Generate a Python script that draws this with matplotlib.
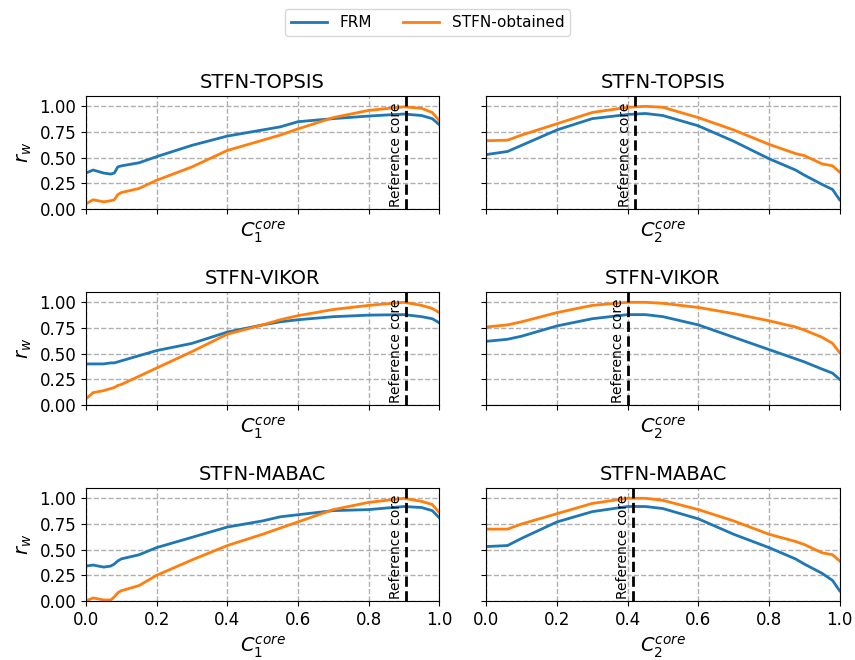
import numpy as np
import matplotlib.pyplot as plt

# C1 core sweep (left column)
x1 = [0.0, 0.02, 0.05, 0.07, 0.08, 0.09, 0.1, 0.15, 0.2, 0.3, 0.4, 0.5, 0.55, 0.6,
      0.7, 0.8, 0.9, 0.95, 0.98, 1.0]
topsis1_frm = [0.35, 0.38, 0.35, 0.34, 0.35, 0.41, 0.42, 0.45, 0.51, 0.62, 0.71, 0.77,
               0.80, 0.85, 0.88, 0.905, 0.925, 0.91, 0.88, 0.82]
topsis1_stfn = [0.05, 0.09, 0.07, 0.08, 0.09, 0.14, 0.16, 0.20, 0.28, 0.41, 0.57, 0.67,
                0.72, 0.78, 0.89, 0.96, 0.995, 0.98, 0.94, 0.86]
vikor1_frm = [0.40, 0.40, 0.40, 0.41, 0.41, 0.42, 0.43, 0.48, 0.53, 0.60, 0.71, 0.78,
              0.81, 0.83, 0.86, 0.875, 0.88, 0.86, 0.84, 0.80]
vikor1_stfn = [0.06, 0.12, 0.14, 0.16, 0.17, 0.19, 0.20, 0.28, 0.36, 0.52, 0.69, 0.78,
               0.83, 0.87, 0.93, 0.97, 1.0, 0.97, 0.94, 0.90]
mabac1_frm = [0.34, 0.35, 0.33, 0.34, 0.36, 0.39, 0.41, 0.45, 0.52, 0.62, 0.72, 0.78,
              0.82, 0.84, 0.88, 0.89, 0.92, 0.91, 0.88, 0.81]
mabac1_stfn = [0.0, 0.03, 0.01, 0.01, 0.04, 0.08, 0.10, 0.15, 0.25, 0.40, 0.54, 0.65,
               0.71, 0.77, 0.89, 0.96, 1.0, 0.97, 0.94, 0.86]

# C2 core sweep (right column)
x2 = [0.0, 0.06, 0.1, 0.2, 0.3, 0.4, 0.45, 0.5, 0.6, 0.7, 0.8, 0.875, 0.9, 0.95, 0.98, 1.0]
topsis2_frm = [0.53, 0.56, 0.62, 0.77, 0.88, 0.92, 0.93, 0.91, 0.81, 0.66, 0.49, 0.38,
               0.33, 0.24, 0.19, 0.09]
topsis2_stfn = [0.665, 0.67, 0.72, 0.83, 0.94, 0.99, 1.0, 0.99, 0.89, 0.77, 0.63, 0.54,
                0.52, 0.44, 0.42, 0.36]
vikor2_frm = [0.62, 0.64, 0.67, 0.77, 0.84, 0.88, 0.88, 0.86, 0.78, 0.66, 0.54, 0.45,
              0.42, 0.35, 0.31, 0.25]
vikor2_stfn = [0.76, 0.78, 0.81, 0.90, 0.97, 1.0, 1.0, 0.99, 0.95, 0.89, 0.82, 0.76,
               0.73, 0.66, 0.60, 0.51]
mabac2_frm = [0.53, 0.54, 0.61, 0.77, 0.87, 0.92, 0.92, 0.90, 0.80, 0.65, 0.52, 0.41,
              0.36, 0.27, 0.20, 0.10]
mabac2_stfn = [0.70, 0.70, 0.75, 0.85, 0.95, 1.0, 1.0, 0.98, 0.89, 0.78, 0.65, 0.58,
               0.55, 0.47, 0.45, 0.39]

methods = ['STFN-TOPSIS', 'STFN-VIKOR', 'STFN-MABAC']
ref1 = [0.905, 0.905, 0.905]
ref2 = [0.42, 0.40, 0.415]

left = [(topsis1_frm, topsis1_stfn), (vikor1_frm, vikor1_stfn), (mabac1_frm, mabac1_stfn)]
right = [(topsis2_frm, topsis2_stfn), (vikor2_frm, vikor2_stfn), (mabac2_frm, mabac2_stfn)]

fig, axes = plt.subplots(3, 2, figsize=(8.55, 6.6), dpi=100, sharex=True, sharey=True)
fig.subplots_adjust(left=0.1006, right=0.982, top=0.8545, bottom=0.0894,
                    hspace=0.735, wspace=0.133)

for i in range(3):
    for j, (xs, data, ref) in enumerate([(x1, left[i], ref1[i]), (x2, right[i], ref2[i])]):
        ax = axes[i, j]
        ax.plot(xs, data[0], color='#1f77b4', lw=2, label='FRM')
        ax.plot(xs, data[1], color='#ff7f0e', lw=2, label='STFN-obtained')
        ax.axvline(ref, color='black', ls='--', lw=2)
        ax.text(ref - 0.008, 0.02, 'Reference core', rotation=90, ha='right',
                va='bottom', fontsize=10)
        ax.grid(True, ls='--', color='#b0b0b0', lw=1)
        ax.set_xlim(0, 1)
        ax.set_ylim(0, 1.1)
        ax.set_yticks([0, 0.25, 0.5, 0.75, 1.0])
        ax.set_title(methods[i], fontsize=14)
        ax.set_xlabel(r'$C_%d^{core}$' % (j + 1), fontsize=14)
        ax.tick_params(labelsize=12)
        ax.xaxis.set_tick_params(labelbottom=(i == 2))
        if j == 0:
            ax.set_ylabel(r'$r_w$', fontsize=14)

handles, labels = axes[0, 0].get_legend_handles_labels()
fig.legend(handles, labels, loc='upper center', ncol=2, bbox_to_anchor=(0.5, 0.998),
           fontsize=11, handlelength=2.4, columnspacing=2.0)
fig.savefig('out.png')
